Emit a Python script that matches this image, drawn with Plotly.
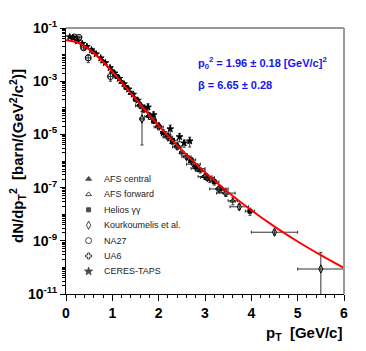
import plotly.graph_objects as go

# fit curve values (red line)
fit_pt = [0, 0.25, 0.5, 0.75, 1.0, 1.25, 1.5, 1.75, 2.0, 2.5, 3.0, 3.5, 4.0, 4.5, 5.0, 5.5, 6.0]
fit_val = [3.5e-2, 2.84e-2, 1.57e-2, 6.53e-3, 2.26e-3, 7.1e-4, 2.17e-4, 6.7e-5, 2.15e-5,
           2.55e-6, 3.74e-7, 6.65e-8, 1.4e-8, 3.42e-9, 9.4e-10, 2.88e-10, 9.5e-11]

# AFS central
afsc_pt = [0.6, 0.8, 1.0, 1.2, 1.4, 1.6, 1.8, 2.0, 2.2, 2.4]
afsc_y = [1.2e-2, 5.5e-3, 2.4e-3, 9.3e-4, 3.6e-4, 1.4e-4, 5.6e-5, 2.3e-5, 9.5e-6, 4.0e-6]
afsc_err = [0.08, 0.08, 0.08, 0.1, 0.1, 0.12, 0.12, 0.15, 0.15, 0.2]

# AFS forward
afsf_pt = [1.9, 2.1, 2.3, 2.5, 2.7, 2.9, 3.1, 3.35, 3.6]
afsf_y = [3.0e-5, 1.17e-5, 5.0e-6, 2.1e-6, 9.5e-7, 4.4e-7, 2.1e-7, 8.9e-8, 3.2e-8]
afsf_err = [0.15, 0.15, 0.15, 0.2, 0.2, 0.2, 0.25, 0.25, 0.3]
afsf_xerr = [0.05, 0.05, 0.05, 0.05, 0.05, 0.1, 0.1, 0.1, 0.1]

# Helios gamma gamma
hel_pt = [1.1, 1.3, 1.5, 1.7, 1.9, 2.3, 2.7, 3.2, 3.97]
hel_y = [1.5e-3, 5.8e-4, 2.1e-4, 8.7e-5, 3.3e-5, 6.0e-6, 1.1e-6, 1.66e-7, 1.3e-8]
hel_err = [0.1, 0.1, 0.1, 0.12, 0.12, 0.15, 0.2, 0.25, 0.3]
hel_xerr = [0.05, 0.05, 0.05, 0.05, 0.05, 0.1, 0.1, 0.1, 0.1]

# Kourkoumelis et al.
kou_pt = [1.64, 2.75, 3.05, 3.74, 4.5, 5.5]
kou_y = [3.8e-5, 7.6e-7, 2.4e-7, 1.9e-8, 2.1e-9, 8.7e-11]
kou_err = [3.4e-5, 1.5e-7, 5e-8, 4e-9, 4e-10, 2.8e-10]
kou_xerr = [0.05, 0.15, 0.15, 0.2, 0.5, 0.5]

# NA27
na27_pt = [0.18, 0.28, 0.38, 0.48, 0.96]
na27_y = [4.6e-2, 4.4e-2, 1.8e-2, 7.5e-3, 1.5e-3]
na27_err = [5e-3, 5e-3, 3e-3, 2.5e-3, 5e-4]
na27_xerr = [0.05, 0.05, 0.05, 0.05, 0.05]

# UA6
ua6_pt = [1.6, 1.8, 2.0, 2.2, 2.4, 2.6, 2.85, 3.0, 3.3, 3.45]
ua6_y = [1.2e-4, 4.7e-5, 1.9e-5, 7.9e-6, 3.4e-6, 1.45e-6, 5.2e-7, 2.6e-7, 8.9e-8, 6.2e-8]
ua6_err = [0.1, 0.1, 0.12, 0.12, 0.15, 0.15, 0.2, 0.2, 0.25, 0.25]
ua6_xerr = [0.1, 0.1, 0.1, 0.1, 0.1, 0.1, 0.15, 0.15, 0.2, 0.2]

# CERES-TAPS
ceres_pt = [0.08, 0.15, 0.25, 0.35, 0.45, 0.55, 0.65, 0.75, 0.85, 0.95, 1.05, 1.15, 1.25,
            1.35, 1.45, 1.55, 1.68, 1.77, 1.89, 2.1, 2.25, 2.45, 2.55, 2.67, 2.81]
ceres_y = [4.6e-2, 4.3e-2, 3.2e-2, 2.6e-2, 2.0e-2, 1.5e-2, 1.05e-2, 7.4e-3, 4.9e-3, 3.2e-3,
           2.0e-3, 1.26e-3, 7.9e-4, 5.0e-4, 3.2e-4, 1.9e-4, 9.5e-5, 1.05e-4, 5.4e-5,
           1.15e-5, 1.6e-5, 8.1e-6, 4.7e-6, 5.6e-6, 6.2e-7]
ceres_err = [0.1, 0.1, 0.1, 0.1, 0.1, 0.1, 0.1, 0.1, 0.1, 0.1, 0.1, 0.1, 0.12, 0.12, 0.12,
             0.15, 0.3, 0.35, 0.3, 0.3, 0.4, 0.35, 0.3, 0.4, 0.3]

legend_names = ["AFS central", "AFS forward", "Helios \u03b3\u03b3", "Kourkoumelis et al.",
                "NA27", "UA6", "CERES-TAPS"]

y_labels = ["10<sup>-11</sup>", "10<sup>-9</sup>", "10<sup>-7</sup>", "10<sup>-5</sup>",
            "10<sup>-3</sup>", "10<sup>-1</sup>"]

series = [
    (afsc_pt, afsc_y, afsc_err, None, "triangle-up", 5),
    (afsf_pt, afsf_y, afsf_err, afsf_xerr, "triangle-up-open", 5),
    (hel_pt, hel_y, hel_err, hel_xerr, "square", 4),
    (kou_pt, kou_y, None, kou_xerr, "diamond-tall-open", 6),
    (na27_pt, na27_y, None, na27_xerr, "circle-open", 6),
    (ua6_pt, ua6_y, ua6_err, ua6_xerr, "cross-open", 5),
    (ceres_pt, ceres_y, ceres_err, None, "star", 5),
]
abs_err = {3: kou_err, 4: na27_err}

fig = go.Figure()

for i, (px, py, rel, xe, sym, size) in enumerate(series):
    if i in abs_err:
        ye = abs_err[i]
    else:
        ye = [r * v for r, v in zip(rel, py)]
    fig.add_trace(go.Scatter(
        x=px, y=py, mode="markers", name=legend_names[i], showlegend=False,
        marker=dict(symbol=sym, size=size, color="black", line=dict(color="black", width=1)),
        error_y=dict(type="data", array=ye, color="#333", thickness=1, width=1.5),
        error_x=dict(type="data", array=xe if xe else [0] * len(px), color="#333",
                     thickness=1, width=1.5, visible=bool(xe)),
    ))

fig.add_trace(go.Scatter(
    x=fit_pt, y=fit_val, mode="lines", line=dict(color="red", width=2, shape="spline"),
    showlegend=False, hoverinfo="skip"
))

# hand-made legend on a hidden overlay axis (pixel-like units)
leg_rows = list(range(len(legend_names)))
leg_y = [115 - 15.4 * r for r in leg_rows]
fig.add_trace(go.Scatter(
    x=[22.6] * len(leg_rows), y=leg_y, mode="markers", xaxis="x2", yaxis="y2",
    marker=dict(symbol=[s[4] for s in series], size=[5, 5, 4, 6, 6, 5, 6], color="black",
                line=dict(color="black", width=1)),
    showlegend=False, hoverinfo="skip"
))
for r, name in zip(leg_y, legend_names):
    fig.add_annotation(x=36, y=r, xref="x2", yref="y2", text=name, showarrow=False,
                       xanchor="left", yanchor="middle",
                       font=dict(size=9, color="#222", family="Liberation Sans, Arial"))

bold = dict(family="Liberation Sans, Arial", size=15, color="black", weight="bold")
tick_font = dict(family="Liberation Sans, Arial", size=14, color="black", weight="bold")

# page body adds an 8px offset, so margins are shifted to compensate
fig.update_layout(
    width=366, height=351,
    margin=dict(l=58, r=30, t=20, b=65, autoexpand=False),
    paper_bgcolor="white", plot_bgcolor="white",
    xaxis=dict(range=[0, 6], tickvals=[0, 1, 2, 3, 4, 5, 6], ticks="outside", ticklen=6,
               tickcolor="black", showline=True, linecolor="black", linewidth=1,
               showgrid=False, zeroline=False, tickfont=tick_font, automargin=False,
               minor=dict(dtick=0.2, ticks="outside", ticklen=3, tickcolor="black")),
    yaxis=dict(type="log", range=[-11, -1],
               tickvals=[1e-11, 1e-9, 1e-7, 1e-5, 1e-3, 1e-1], ticktext=y_labels,
               ticks="outside", ticklen=5, tickcolor="black", automargin=False,
               showline=True, linecolor="black", linewidth=1, showgrid=False,
               zeroline=False, tickfont=tick_font,
               minor=dict(tickvals=[k * 10.0 ** n for n in range(-11, -1) for k in range(2, 11)],
                          ticks="outside", ticklen=3, tickcolor="black")),
    xaxis2=dict(domain=[0, 1], range=[0, 278], visible=False, overlaying="x", anchor="y2"),
    yaxis2=dict(domain=[0, 1], range=[0, 266], visible=False, overlaying="y", anchor="x2"),
    shapes=[
        dict(type="line", xref="paper", yref="paper", x0=0, x1=1, y0=1, y1=1,
             line=dict(color="#999", width=2)),
        dict(type="line", xref="paper", yref="paper", x0=1, x1=1, y0=0, y1=1,
             line=dict(color="#999", width=2)),
    ],
)

fig.add_annotation(
    text="dN/dp<sub>T</sub><sup>2</sup>  [barn/(GeV<sup>2</sup>/c<sup>2</sup>)]",
    xref="paper", yref="paper", x=-0.175, y=0.52, textangle=-90, showarrow=False,
    xanchor="center", yanchor="middle", font=bold)
fig.add_annotation(
    text="p<sub>T</sub>  [GeV/c]", xref="paper", yref="paper", x=1.0, y=-0.15,
    showarrow=False, xanchor="right", yanchor="middle", font=bold)

blue = dict(family="Liberation Sans, Arial", size=11, color="#1515ee", weight="bold")
fig.add_annotation(
    text="p<sub>0</sub><sup>2</sup> = 1.96 \u00b1 0.18 [GeV/c]<sup>2</sup>",
    xref="paper", yref="paper", x=0.468, y=0.868, showarrow=False,
    xanchor="left", yanchor="middle", font=blue)
fig.add_annotation(
    text="\u03b2 = 6.65 \u00b1 0.28", xref="paper", yref="paper", x=0.468, y=0.786,
    showarrow=False, xanchor="left", yanchor="middle", font=blue)

fig.write_html("out.html")
